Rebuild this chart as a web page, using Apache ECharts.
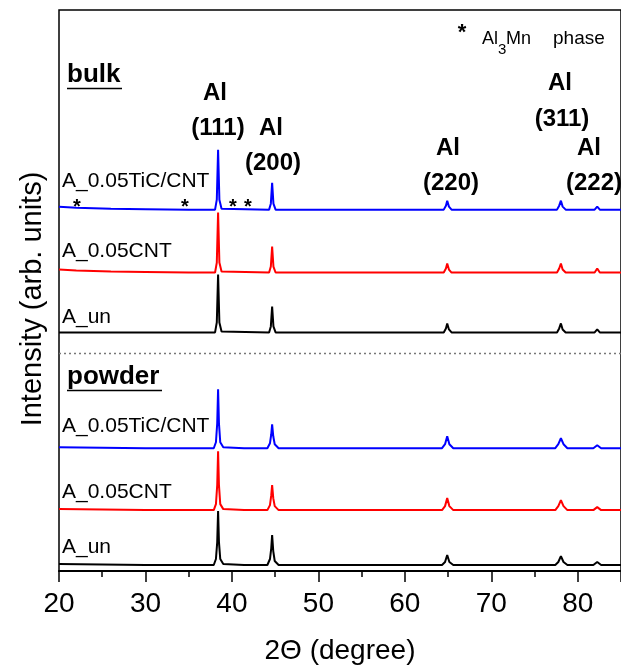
<!DOCTYPE html>
<html>
<head>
<meta charset="utf-8">
<script src="https://cdn.jsdelivr.net/npm/echarts@6/dist/echarts.min.js"></script>
<style>
  html, body { margin: 0; padding: 0; background: #fff; }
  #chart { width: 621px; height: 670px; }
</style>
</head>
<body>
<div id="chart"></div>
<script>
// XRD patterns: [2θ (degree), intensity above the trace's own baseline]
const bulkTiCCNT = [
  [20, 3], [22, 2], [26, 1], [30, 0.5], [35, 0], [38.05, 0], [38.25, 10], [38.4, 60], [38.55, 10], [38.8, 1],
  [44.3, 0], [44.5, 6], [44.65, 27], [44.8, 6], [45.05, 0],
  [64.5, 0], [64.75, 4], [64.9, 9], [65.1, 3], [65.4, 0],
  [77.6, 0], [77.85, 4], [78.05, 9], [78.25, 3], [78.6, 0],
  [81.95, 0], [82.25, 3], [82.55, 0], [85, 0]
];
const bulkCNT = [
  [20, 3], [22, 2], [26, 1], [30, 0.5], [35, 0], [38.05, 0], [38.25, 10], [38.4, 60], [38.55, 10], [38.8, 1],
  [44.3, 0], [44.5, 6], [44.65, 26], [44.8, 6], [45.05, 0],
  [64.5, 0], [64.75, 4], [64.9, 9], [65.1, 3], [65.4, 0],
  [77.6, 0], [77.85, 4], [78.05, 9], [78.25, 3], [78.6, 0],
  [81.95, 0], [82.25, 4], [82.55, 0], [85, 0]
];
const bulkUn = [
  [20, 0], [38.05, 0], [38.25, 10], [38.4, 58], [38.55, 10], [38.8, 1],
  [44.3, 0], [44.5, 6], [44.65, 26], [44.8, 6], [45.05, 0],
  [64.5, 0], [64.75, 4], [64.9, 9], [65.1, 3], [65.4, 0],
  [77.6, 0], [77.85, 4], [78.05, 9], [78.25, 3], [78.6, 0],
  [81.95, 0], [82.25, 3], [82.55, 0], [85, 0]
];
const powderTiCCNT = [
  [20, 1], [30, 0], [34.3, 0], [34.45, 2], [34.6, 0], [37.9, 0], [38.15, 6], [38.3, 25], [38.4, 59], [38.5, 25], [38.65, 6], [39.0, 1],
  [41.4, 0], [41.5, 2], [41.6, 0],
  [44.1, 0], [44.4, 5], [44.55, 14], [44.65, 24], [44.78, 12], [44.95, 4], [45.4, 0],
  [64.3, 0], [64.65, 4], [64.9, 12], [65.15, 4], [65.6, 0],
  [77.4, 0], [77.75, 4], [78.05, 10], [78.35, 4], [78.8, 0],
  [81.8, 0], [82.25, 3], [82.7, 0], [85, 0]
];
const powderCNT = [
  [20, 1], [30, 0], [34.3, 0], [34.45, 1.5], [34.6, 0], [37.9, 0], [38.15, 6], [38.3, 25], [38.4, 59], [38.5, 25], [38.65, 6], [39.0, 1],
  [41.4, 0], [41.5, 1.5], [41.6, 0],
  [44.1, 0], [44.4, 5], [44.55, 15], [44.65, 25], [44.78, 12], [44.95, 4], [45.4, 0],
  [64.3, 0], [64.65, 4], [64.9, 12], [65.15, 4], [65.6, 0],
  [77.4, 0], [77.75, 4], [78.05, 10], [78.35, 4], [78.8, 0],
  [81.8, 0], [82.25, 3], [82.7, 0], [85, 0]
];
const powderUn = [
  [20, 1], [30, 0], [37.9, 0], [38.15, 6], [38.3, 23], [38.4, 54], [38.5, 23], [38.65, 6], [39.0, 1],
  [41.4, 0], [41.5, 1.5], [41.6, 0],
  [44.1, 0], [44.4, 6], [44.55, 17], [44.65, 30], [44.78, 14], [44.95, 4], [45.4, 0],
  [64.3, 0], [64.65, 3], [64.9, 10], [65.15, 3], [65.6, 0],
  [77.4, 0], [77.75, 3], [78.05, 9], [78.35, 3], [78.8, 0],
  [81.8, 0], [82.25, 3], [82.7, 0], [85, 0]
];

const traceNames = ['A_0.05TiC/CNT', 'A_0.05CNT', 'A_un', 'A_0.05TiC/CNT', 'A_0.05CNT', 'A_un'];
const traceColors = ['#0000ff', '#ff0000', '#000000', '#0000ff', '#ff0000', '#000000'];
const traceData = [bulkTiCCNT, bulkCNT, bulkUn, powderTiCCNT, powderCNT, powderUn];
// vertical stacking offset of each pattern (arb. units)
const stackOffsets = [362, 299, 239, 123, 61, 6];
const separatorLevel = 218;
const xRange = [20, 85];
const yRange = [0, 562];

const FONT = "'Liberation Sans', Arial, Helvetica, sans-serif";
const chart = echarts.init(document.getElementById('chart'), null, { renderer: 'canvas' });

const series = traceData.map((pts, i) => ({
  type: 'line',
  name: traceNames[i] + '#' + i,
  data: pts.map(([x, y]) => [x, y + stackOffsets[i]]),
  showSymbol: false,
  smooth: false,
  lineStyle: { color: traceColors[i], width: 2 },
  itemStyle: { color: traceColors[i] },
  z: 3 + i,
  animation: false
}));
series.push({
  type: 'line',
  name: 'separator',
  data: [[xRange[0], separatorLevel], [xRange[1], separatorLevel]],
  showSymbol: false,
  lineStyle: { color: '#777', width: 1.5, type: [2, 3] },
  animation: false
});

function txt(text, x, y, opts) {
  return {
    type: 'text', x: x, y: y, z: 50, silent: true,
    style: Object.assign({
      text: text, fontFamily: FONT, fontSize: 21, fill: '#000',
      align: 'left', verticalAlign: 'middle'
    }, opts || {})
  };
}
function rule(x1, x2, y) {
  return { type: 'line', z: 50, silent: true, shape: { x1: x1, y1: y, x2: x2, y2: y }, style: { stroke: '#000', lineWidth: 1.5 } };
}

const bold = { fontWeight: 'bold', fontSize: 24, align: 'center' };
const graphic = [
  // section headings
  txt('bulk', 67, 75, { fontWeight: 'bold', fontSize: 26 }),
  rule(67, 122, 88.5),
  txt('powder', 67, 377, { fontWeight: 'bold', fontSize: 26 }),
  rule(67, 162, 390.5),
  // sample names
  txt(traceNames[0], 62, 181),
  txt(traceNames[1], 62, 251),
  txt(traceNames[2], 62, 317),
  txt(traceNames[3], 62, 426),
  txt(traceNames[4], 62, 492),
  txt(traceNames[5], 62, 547),
  // reflection labels
  txt('Al', 215, 93, bold), txt('(111)', 218, 128, bold),
  txt('Al', 271, 128, bold), txt('(200)', 273, 163, bold),
  txt('Al', 448, 148, bold), txt('(220)', 451, 183, bold),
  txt('Al', 560, 83, bold), txt('(311)', 562, 119, bold),
  txt('Al', 589, 148, bold), txt('(222)', 594, 183, bold),
  // Al3Mn reflections
  txt('*', 77, 207, { fontWeight: 'bold', fontSize: 20, align: 'center' }),
  txt('*', 185, 207, { fontWeight: 'bold', fontSize: 20, align: 'center' }),
  txt('*', 233, 207, { fontWeight: 'bold', fontSize: 20, align: 'center' }),
  txt('*', 248, 207, { fontWeight: 'bold', fontSize: 20, align: 'center' }),
  // phase key
  txt('*', 462, 33, { fontWeight: 'bold', fontSize: 22, align: 'center' }),
  txt('Al', 482, 48, { fontSize: 18, verticalAlign: 'bottom' }),
  txt('3', 498, 57, { fontSize: 15, verticalAlign: 'bottom' }),
  txt('Mn', 506, 48, { fontSize: 18, verticalAlign: 'bottom' }),
  txt('phase', 553, 48, { fontSize: 19, verticalAlign: 'bottom' }),
  // y axis title
  {
    type: 'text', x: 33, y: 299, rotation: Math.PI / 2, z: 50, silent: true,
    style: { text: 'Intensity (arb. units)', fontFamily: FONT, fontSize: 29, fill: '#000', align: 'center', verticalAlign: 'middle' }
  }
];

chart.setOption({
  animation: false,
  backgroundColor: '#fff',
  grid: { left: 59, top: 10, right: -4, bottom: 98, show: true, borderColor: '#000', borderWidth: 1.5, backgroundColor: 'transparent' },
  xAxis: {
    type: 'value',
    min: xRange[0], max: xRange[1], interval: 10,
    name: '2\u0398 (degree)',
    nameLocation: 'middle',
    nameGap: 66,
    nameTextStyle: { fontFamily: FONT, fontSize: 28, color: '#000' },
    axisLine: { show: true, lineStyle: { color: '#000', width: 2 } },
    axisTick: { show: true, inside: false, length: 11, lineStyle: { color: '#000', width: 1.5 } },
    minorTick: { show: true, splitNumber: 2, length: 6, lineStyle: { color: '#000', width: 1.5 } },
    axisLabel: { fontFamily: FONT, fontSize: 28, color: '#000', margin: 19, showMaxLabel: false },
    splitLine: { show: false }
  },
  yAxis: {
    type: 'value', min: yRange[0], max: yRange[1], show: false, splitLine: { show: false }
  },
  series: series,
  graphic: graphic
});
</script>
</body>
</html>
